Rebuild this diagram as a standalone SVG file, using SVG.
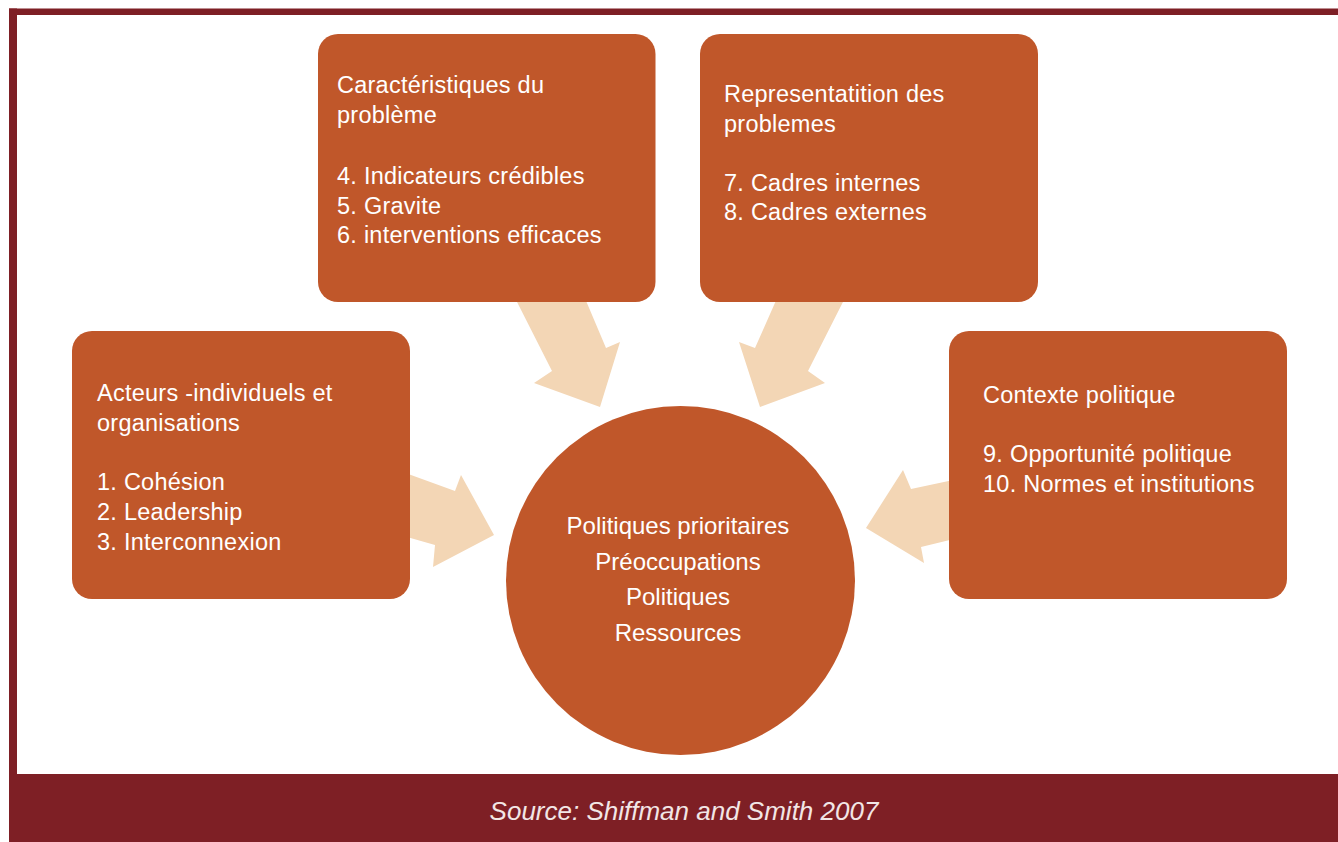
<svg xmlns="http://www.w3.org/2000/svg" width="1338" height="842" viewBox="0 0 1338 842">
  <style>
    .box { fill: #C0572A; }
    .arrow { fill: #F3D6B5; }
    .frame { fill: #7E1F25; }
    .t { font-family: "Liberation Sans", Arial, sans-serif; font-size: 23.5px; fill: #FFFFFF; letter-spacing: 0.25px; }
    .c { font-family: "Liberation Sans", Arial, sans-serif; font-size: 24px; fill: #FFFFFF; text-anchor: middle; }
    .src { font-family: "Liberation Sans", Arial, sans-serif; font-size: 26px; font-style: italic; fill: #F2E6E6; text-anchor: middle; }
  </style>
  <rect x="0" y="0" width="1338" height="842" fill="#FFFFFF"/>
  <g id="frame">
    <rect class="frame" x="9" y="8.5" width="1329" height="6.5"/>
    <rect class="frame" x="9" y="8.5" width="8" height="766"/>
    <rect class="frame" x="9" y="774" width="1329" height="68"/>
  </g>
  <g id="connectors">
    <polygon class="arrow" points="514,296 552,371 534,383 600,407 620,342 606,348 584,296"/>
    <polygon class="arrow" points="778,296 755,348 739,342 760,407 825,383 808,371 846,296"/>
    <polygon class="arrow" points="400,471 455,491 461,475 494,535 433,567 435,545 400,535"/>
    <polygon class="arrow" points="958,479 911,489 903,470 866,528 924,563 921,547 958,538"/>
  </g>
  <g id="node-caracteristiques">
    <rect class="box" x="318" y="34" width="337.5" height="268" rx="20"/>
    <text class="t" x="337" y="93">Caractéristiques du</text>
    <text class="t" x="337" y="123">problème</text>
    <text class="t" x="337" y="184">4. Indicateurs crédibles</text>
    <text class="t" x="337" y="214">5. Gravite</text>
    <text class="t" x="337" y="243">6. interventions efficaces</text>
  </g>
  <g id="node-representation">
    <rect class="box" x="700" y="34" width="338" height="268" rx="20"/>
    <text class="t" x="724" y="102">Representatition des</text>
    <text class="t" x="724" y="132">problemes</text>
    <text class="t" x="724" y="191">7. Cadres internes</text>
    <text class="t" x="724" y="220">8. Cadres externes</text>
  </g>
  <g id="node-acteurs">
    <rect class="box" x="72" y="331" width="338" height="268" rx="20"/>
    <text class="t" x="97" y="401">Acteurs -individuels et</text>
    <text class="t" x="97" y="431">organisations</text>
    <text class="t" x="97" y="490">1. Cohésion</text>
    <text class="t" x="97" y="520">2. Leadership</text>
    <text class="t" x="97" y="550">3. Interconnexion</text>
  </g>
  <g id="node-contexte">
    <rect class="box" x="949" y="331" width="338" height="268" rx="20"/>
    <text class="t" x="983" y="403">Contexte politique</text>
    <text class="t" x="983" y="462">9. Opportunité politique</text>
    <text class="t" x="983" y="492">10. Normes et institutions</text>
  </g>
  <g id="node-centre">
    <circle class="box" cx="680.5" cy="580.5" r="174.5"/>
    <text class="c" x="678" y="534">Politiques prioritaires</text>
    <text class="c" x="678" y="570">Préoccupations</text>
    <text class="c" x="678" y="605">Politiques</text>
    <text class="c" x="678" y="641">Ressources</text>
  </g>
  <text class="src" x="684" y="820">Source: Shiffman and Smith 2007</text>
</svg>
